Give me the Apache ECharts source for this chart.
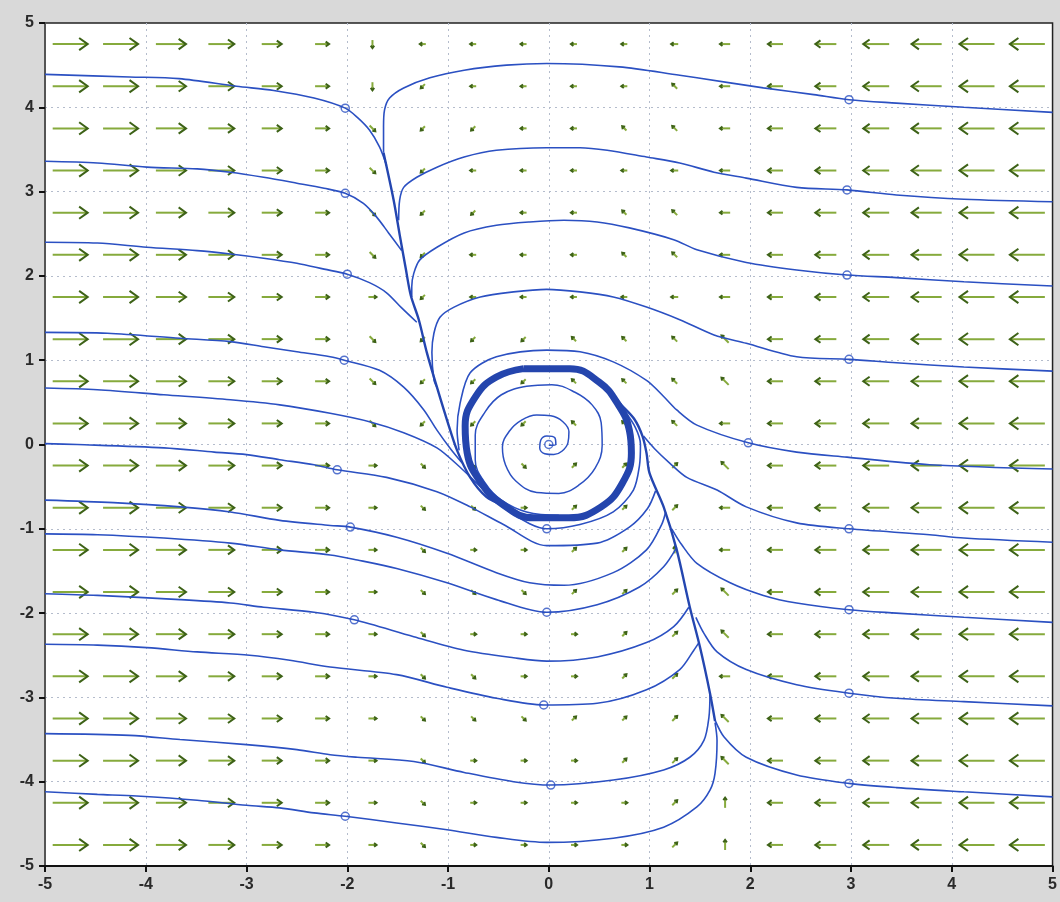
<!DOCTYPE html>
<html>
<head>
<meta charset="utf-8">
<script src="https://cdn.jsdelivr.net/npm/echarts@6/dist/echarts.min.js"></script>
<style>
html,body{margin:0;padding:0;background:#d9d9d9;}
#chart{width:1060px;height:902px;}
</style>
</head>
<body>
<div id="chart"></div>
<script>
// ---------- DATA ----------
const axisTicks = [-5,-4,-3,-2,-1,0,1,2,3,4,5];

// direction field grid
const arrowCols = [-4.75,-4.25,-3.75,-3.25,-2.75,-2.25,-1.75,-1.25,-0.75,-0.25,0.25,0.75,1.25,1.75,2.25,2.75,3.25,3.75,4.25,4.75];
const arrowRows = [4.75,4.25,3.75,3.25,2.75,2.25,1.75,1.25,0.75,0.25,-0.25,-0.75,-1.25,-1.75,-2.25,-2.75,-3.25,-3.75,-4.25,-4.75];
// relative arrow magnitude per column
const arrowMag = [1,1,0.86,0.74,0.57,0.4,0.23,0.17,0.17,0.17,0.17,0.17,0.2,0.29,0.43,0.6,0.74,0.86,1,1];
// direction per cell: E,N,W,S and a=NE b=NW c=SW d=SE
const arrowDir = [
  "EEEEEESWWWWWWWWWWWWW",
  "EEEEEEScWWWWbWWWWWWW",
  "EEEEEEdccWWbbWWWWWWW",
  "EEEEEEdcWWWWWWWWWWWW",
  "EEEEEEdccWWbbWWWWWWW",
  "EEEEEEdcWWWbbWWWWWWW",
  "EEEEEEEcWWWWWWWWWWWW",
  "EEEEEEdcccbbbbWWWWWW",
  "EEEEEEdcccbbbbWWWWWW",
  "EEEEEEdcccbbbWWWWWWW",
  "EEEEEEEdddaaabWWWWWW",
  "EEEEEEEddEaaaWWWWWWW",
  "EEEEEEEdEEaaNWWWWWWW",
  "EEEEEEEdddaaabWWWWWW",
  "EEEEEEEdEEEaabWWWWWW",
  "EEEEEEEddEEaaWWWWWWW",
  "EEEEEEEdddaaabWWWWWW",
  "EEEEEEEdEEEaabWWWWWW",
  "EEEEEEEdEEEEaNWWWWWW",
  "EEEEEEEdEEEEaNWWWWWW"
];

// trajectories entering from the left edge
const trajA1 = [[-5,4.39],[-4.16,4.36],[-3.67,4.34],[-3.10,4.25],[-2.73,4.20],[-2.33,4.11],[-2.02,3.99],[-1.90,3.88],[-1.78,3.73],[-1.68,3.53],[-1.61,3.31]];
const trajA2 = [[-5,3.36],[-4.48,3.34],[-3.99,3.29],[-3.49,3.27],[-3.16,3.23],[-2.83,3.17],[-2.50,3.10],[-2.23,3.04],[-2.02,2.98],[-1.84,2.86],[-1.71,2.70],[-1.59,2.51],[-1.46,2.30]];
const trajA3 = [[-5,2.40],[-4.48,2.39],[-3.99,2.34],[-3.49,2.30],[-3.16,2.26],[-2.83,2.21],[-2.50,2.15],[-2.23,2.08],[-2.00,2.02],[-1.78,1.92],[-1.61,1.80],[-1.46,1.62],[-1.31,1.45]];
const trajA4 = [[-5,1.33],[-4.38,1.32],[-3.66,1.26],[-3.16,1.22],[-2.83,1.16],[-2.50,1.10],[-2.17,1.04],[-2.03,1.00],[-1.68,0.88],[-1.44,0.68],[-1.24,0.41],[-1.11,0.17],[-0.97,-0.06],[-0.86,-0.22]];
const trajA5 = [[-5,0.67],[-4.48,0.65],[-3.82,0.59],[-3.16,0.53],[-2.67,0.47],[-2.17,0.37],[-1.78,0.27],[-1.44,0.14],[-1.11,-0.04],[-0.88,-0.27],[-0.68,-0.50],[-0.45,-0.75],[-0.19,-0.94],[-0.02,-1.00],[0.31,-0.95],[0.64,-0.80],[0.84,-0.54],[0.90,-0.25],[0.91,0.0],[0.86,0.2],[0.74,0.42]];
const trajA6 = [[-5,0.01],[-4.68,0.0],[-3.82,-0.04],[-3.32,-0.09],[-3.0,-0.12],[-2.67,-0.18],[-2.33,-0.24],[-2.10,-0.30],[-1.61,-0.39],[-1.11,-0.56],[-0.78,-0.74],[-0.45,-0.95],[-0.02,-1.20],[0.48,-1.17],[0.80,-0.98],[0.98,-0.76],[1.06,-0.55]];
const trajA7 = [[-5,-0.66],[-4.32,-0.69],[-3.66,-0.74],[-3.16,-0.80],[-2.67,-0.90],[-2.17,-0.96],[-1.97,-0.98],[-1.51,-1.10],[-1.01,-1.29],[-0.52,-1.52],[-0.19,-1.64],[0.15,-1.67],[0.64,-1.52],[0.97,-1.25],[1.12,-0.95],[1.16,-0.80]];
const trajA8 = [[-5,-1.06],[-4.48,-1.07],[-3.82,-1.11],[-3.16,-1.17],[-2.67,-1.25],[-2.17,-1.31],[-1.90,-1.37],[-1.51,-1.47],[-1.01,-1.64],[-0.52,-1.84],[-0.02,-1.99],[0.48,-1.90],[0.90,-1.69],[1.14,-1.45],[1.27,-1.22]];
const trajA9 = [[-5,-1.77],[-4.48,-1.79],[-3.66,-1.84],[-3.16,-1.88],[-2.83,-1.93],[-2.33,-1.99],[-1.93,-2.08],[-1.34,-2.28],[-0.84,-2.44],[-0.35,-2.53],[-0.02,-2.57],[0.48,-2.52],[0.97,-2.35],[1.24,-2.16],[1.39,-1.93]];
const trajA10 = [[-5,-2.37],[-4.48,-2.38],[-3.99,-2.41],[-3.49,-2.46],[-2.97,-2.50],[-2.57,-2.56],[-2.17,-2.64],[-1.51,-2.73],[-1.01,-2.88],[-0.52,-3.01],[-0.05,-3.09],[0.48,-3.07],[0.97,-2.91],[1.30,-2.67],[1.44,-2.44],[1.49,-2.35]];
const trajA11 = [[-5,-3.43],[-4.16,-3.45],[-3.66,-3.50],[-3.0,-3.56],[-2.50,-3.62],[-2.17,-3.68],[-1.90,-3.71],[-1.34,-3.76],[-0.84,-3.89],[-0.35,-4.00],[0.02,-4.04],[0.64,-3.98],[1.14,-3.86],[1.40,-3.71],[1.54,-3.51],[1.59,-3.23],[1.60,-2.95]];
const trajA12 = [[-5,-4.12],[-4.48,-4.15],[-4.09,-4.17],[-3.49,-4.22],[-3.0,-4.28],[-2.67,-4.31],[-2.33,-4.37],[-2.02,-4.41],[-1.51,-4.49],[-1.01,-4.57],[-0.52,-4.66],[-0.02,-4.72],[0.64,-4.67],[1.14,-4.54],[1.47,-4.30],[1.60,-4.10],[1.65,-3.90],[1.67,-3.51],[1.65,-3.30]];

// trajectories entering from the right edge
const trajR1 = [[5,3.94],[4.12,4.00],[3.45,4.05],[2.98,4.09],[2.63,4.15],[2.13,4.23],[1.47,4.35],[1.30,4.38],[0.70,4.48],[-0.02,4.52],[-0.42,4.50],[-0.84,4.44],[-1.18,4.35],[-1.44,4.23],[-1.58,4.11],[-1.63,3.97],[-1.64,3.77],[-1.64,3.46]];
const trajR2 = [[5,2.88],[4.12,2.91],[3.45,2.96],[2.96,3.02],[2.46,3.05],[1.96,3.16],[1.64,3.23],[1.30,3.34],[0.97,3.41],[0.58,3.49],[0.31,3.52],[-0.02,3.52],[-0.52,3.49],[-0.84,3.41],[-1.11,3.29],[-1.31,3.17],[-1.44,3.05],[-1.48,2.90],[-1.49,2.66]];
const trajR3 = [[5,1.88],[4.12,1.93],[3.45,1.98],[2.96,2.01],[2.46,2.07],[1.96,2.16],[1.47,2.31],[1.24,2.43],[0.80,2.57],[0.48,2.64],[0.15,2.66],[-0.19,2.64],[-0.52,2.60],[-0.84,2.51],[-1.11,2.34],[-1.28,2.19],[-1.34,2.03],[-1.36,1.87],[-1.36,1.75]];
const trajR4 = [[5,0.87],[4.12,0.92],[3.45,0.97],[2.98,1.01],[2.46,1.04],[1.96,1.20],[1.64,1.30],[1.30,1.48],[0.97,1.63],[0.64,1.75],[0.31,1.81],[-0.02,1.84],[-0.35,1.81],[-0.68,1.75],[-0.94,1.63],[-1.08,1.51],[-1.14,1.32],[-1.16,1.09],[-1.14,0.77],[-1.11,0.68]];
const trajR5 = [[5,-0.29],[3.78,-0.24],[2.96,-0.15],[2.46,-0.09],[1.98,0.02],[1.47,0.23],[1.27,0.41],[1.14,0.57],[0.97,0.76],[0.64,0.98],[0.31,1.10],[-0.02,1.12],[-0.52,1.04],[-0.78,0.85],[-0.88,0.49],[-0.91,0.17],[-0.89,-0.07]];
const trajR6 = [[5,-1.16],[4.12,-1.11],[3.78,-1.07],[2.98,-1.0],[2.46,-0.93],[1.96,-0.74],[1.67,-0.54],[1.37,-0.39],[1.20,-0.22],[1.05,-0.05],[0.94,0.10]];
const trajR7 = [[5,-2.11],[4.12,-2.05],[3.45,-2.0],[2.98,-1.96],[2.46,-1.88],[2.13,-1.79],[1.80,-1.64],[1.47,-1.41],[1.32,-1.19],[1.22,-1.0]];
const trajR8 = [[5,-3.10],[4.12,-3.05],[3.45,-3.01],[2.98,-2.95],[2.46,-2.85],[1.96,-2.67],[1.67,-2.46],[1.54,-2.24],[1.46,-2.05]];
const trajR9 = [[5,-4.18],[4.12,-4.12],[3.45,-4.07],[2.98,-4.02],[2.46,-3.92],[1.96,-3.71],[1.74,-3.47],[1.65,-3.27]];

// shared paths where trajectories converge
const manifoldLeft = [[-1.64,3.46],[-1.54,2.90],[-1.48,2.49],[-1.42,2.09],[-1.37,1.77],[-1.29,1.48],[-1.21,1.09],[-1.11,0.68],[-1.01,0.29],[-0.91,-0.07],[-0.78,-0.39],[-0.62,-0.62],[-0.45,-0.72]];
const manifoldRight = [[1.65,-3.28],[1.60,-2.95],[1.50,-2.40],[1.40,-1.93],[1.27,-1.25],[1.14,-0.74],[1.0,-0.34],[0.97,-0.1],[0.93,0.1],[0.85,0.3],[0.72,0.47],[0.55,0.70]];

// spiral from the origin out to the cycle
const spiral = [[0,-0.01],[0.07,0.0],[0.06,0.08],[-0.02,0.10],[-0.08,0.05],[-0.09,-0.04],[-0.04,-0.11],[0.05,-0.12],[0.13,-0.08],[0.19,0.02],[0.20,0.15],[0.14,0.27],[0.02,0.34],[-0.12,0.35],[-0.27,0.29],[-0.39,0.16],[-0.46,-0.03],[-0.43,-0.24],[-0.33,-0.43],[-0.12,-0.57],[0.10,-0.58],[0.30,-0.48],[0.46,-0.28],[0.53,-0.01],[0.52,0.26],[0.43,0.47],[0.26,0.62],[0.03,0.71],[-0.22,0.69],[-0.47,0.59],[-0.63,0.39],[-0.73,0.11],[-0.73,-0.18],[-0.63,-0.46],[-0.47,-0.66],[-0.22,-0.80],[0.10,-0.84]];

// limit cycle (closed)
const limitCycle = [[-0.25,0.90],[0.21,0.90],[0.50,0.74],[0.68,0.49],[0.80,0.17],[0.82,-0.10],[0.73,-0.46],[0.52,-0.74],[0.20,-0.87],[-0.15,-0.87],[-0.47,-0.70],[-0.68,-0.44],[-0.81,-0.10],[-0.83,0.22],[-0.72,0.58],[-0.52,0.80],[-0.25,0.90]];

// small circles marking starting points
const startPoints = [[-2.02,3.99],[-2.02,2.98],[-2.0,2.02],[-2.03,1.0],[-2.10,-0.30],[-1.97,-0.98],[-1.93,-2.08],[-2.02,-4.41],
  [-0.02,-1.0],[-0.02,-1.99],[-0.05,-3.09],[0.02,-4.04],
  [2.98,4.09],[2.96,3.02],[2.96,2.01],[2.98,1.01],[1.98,0.02],[2.98,-1.0],[2.98,-1.96],[2.98,-2.95],[2.98,-4.02],[0,0]];

// ---------- CHART ----------
const dirAngle = {E:0,a:45,N:90,b:135,W:180,c:225,S:270,d:315};
const arrowData = [];
arrowRows.forEach((y, r) => {
  arrowCols.forEach((x, c) => {
    arrowData.push([x, y, arrowMag[c], dirAngle[arrowDir[r][c]]]);
  });
});

const LINE_COLOR = '#2b50c2';
const trajectories = [trajA1,trajA2,trajA3,trajA4,trajA5,trajA6,trajA7,trajA8,trajA9,trajA10,trajA11,trajA12,
  trajR1,trajR2,trajR3,trajR4,trajR5,trajR6,trajR7,trajR8,trajR9];

function lineSeries(data, width, color, smooth) {
  return {
    type: 'line', data: data, showSymbol: false, smooth: smooth,
    lineStyle: { color: color, width: width }, z: 3, silent: true
  };
}

const series = [];
series.push({
  type: 'custom',
  z: 1,
  silent: true,
  data: arrowData,
  renderItem: function (params, api) {
    const c = api.coord([api.value(0), api.value(1)]);
    const L = api.value(2) * 35;
    const ang = api.value(3) * Math.PI / 180;
    const dx = Math.cos(ang), dy = -Math.sin(ang);
    const tail = [c[0] - dx * L / 2, c[1] - dy * L / 2];
    const tip = [c[0] + dx * L / 2, c[1] + dy * L / 2];
    const h = Math.max(3, L * 0.3);
    const s = 0.62;
    const h1 = [tip[0] - h * (dx * Math.cos(s) - dy * Math.sin(s)), tip[1] - h * (dy * Math.cos(s) + dx * Math.sin(s))];
    const h2 = [tip[0] - h * (dx * Math.cos(-s) - dy * Math.sin(-s)), tip[1] - h * (dy * Math.cos(-s) + dx * Math.sin(-s))];
    return {
      type: 'group',
      children: [
        { type: 'polyline', shape: { points: [tail, tip] }, style: { stroke: '#86aa3c', lineWidth: 2, fill: null } },
        { type: 'polyline', shape: { points: [h1, tip, h2] }, style: { stroke: '#3d6217', lineWidth: 2, fill: null } }
      ]
    };
  }
});

trajectories.forEach(t => series.push(lineSeries(t, 1.6, LINE_COLOR, 0.3)));
series.push(lineSeries(manifoldLeft, 2.4, '#2446b0', 0.3));
series.push(lineSeries(manifoldRight, 2.4, '#2446b0', 0.3));
series.push(lineSeries(spiral, 1.5, LINE_COLOR, 0.4));
series.push(lineSeries(limitCycle, 7, '#2445ad', 0.45));
series.push({
  type: 'scatter', data: startPoints, symbol: 'circle', symbolSize: 8, z: 4, silent: true,
  itemStyle: { color: 'rgba(255,255,255,0)', borderColor: '#2b50c2', borderWidth: 1.5 }
});

const axisCommon = {
  type: 'value', min: -5, max: 5, interval: 1,
  axisLabel: { color: '#2a2a2a', fontSize: 16, fontWeight: 'bold', fontFamily: 'Liberation Sans', margin: 11,
    formatter: v => (axisTicks.indexOf(v) >= 0 ? String(v) : '') },
  axisTick: { show: true, inside: false, length: 6, lineStyle: { color: '#111', width: 2 } },
  splitLine: { show: true, showMinLine: false, showMaxLine: false, lineStyle: { color: '#b4bccc', type: [2, 4], width: 1 } }
};

const chart = echarts.init(document.getElementById('chart'), null, { renderer: 'canvas' });
chart.setOption({
  animation: false,
  backgroundColor: '#d9d9d9',
  grid: { left: 45, right: 7, top: 23, bottom: 36, show: true, backgroundColor: '#ffffff', borderColor: '#222', borderWidth: 1.5 },
  xAxis: Object.assign({}, axisCommon, { axisLine: { show: true, onZero: false, lineStyle: { color: '#111', width: 2 } } }),
  yAxis: Object.assign({}, axisCommon, { axisLine: { show: true, onZero: false, lineStyle: { color: '#555', width: 2 } } }),
  series: series
});
</script>
</body>
</html>
